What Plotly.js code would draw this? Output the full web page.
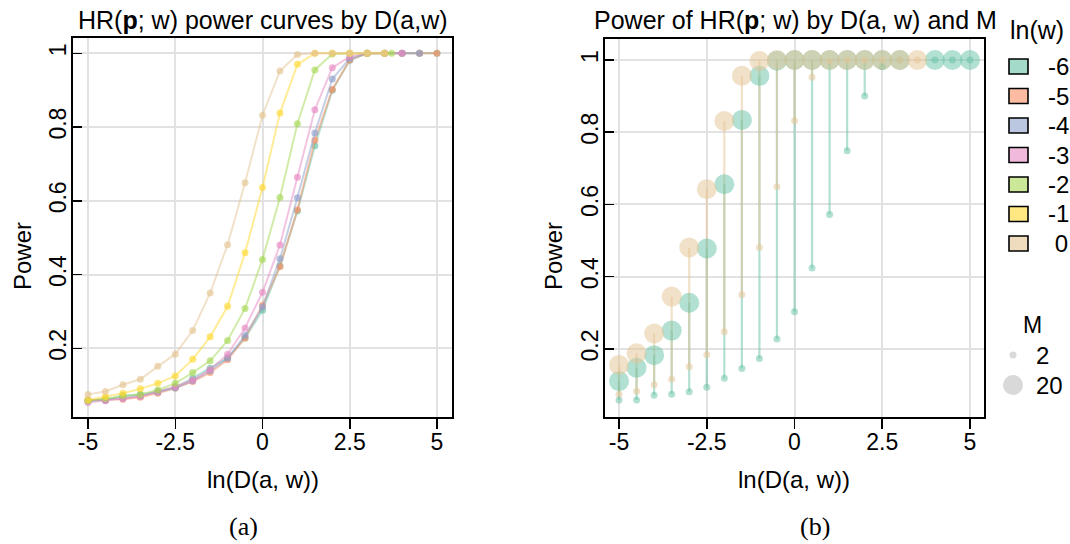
<!DOCTYPE html>
<html><head><meta charset="utf-8">
<script src="https://cdn.plot.ly/plotly-3.0.1.min.js"></script>
<style>html,body{margin:0;padding:0;background:#fff;}#chart{width:1070px;height:544px;}</style>
</head><body><div id="chart"></div>
<script>
// ---- data ----
const lnW = [-6, -5, -4, -3, -2, -1, 0];
const lnWLabels = ["-6", "-5", "-4", "-3", "-2", "-1", "\u00a00"];
const rgb = ["102,194,165", "252,141,98", "141,160,203", "231,138,195", "166,216,84", "255,217,47", "229,196,148"];

// ln(D(a,w)) grids per ln(w)
const d_wm6 = [-5,-4.5,-4,-3.5,-3,-2.5,-2,-1.5,-1,-0.5,0,0.5,1,1.5,2,2.5,3,4,4.5,5];
const d_wm5 = [-5,-4.5,-4,-3.5,-3,-2.5,-2,-1.5,-1,-0.5,0,0.5,1,1.5,2,2.5,3,3.5,4,4.5,5];
const d_wm4 = [-5,-4.5,-4,-3.5,-3,-2.5,-2,-1.5,-1,-0.5,0,0.5,1,1.5,2,2.5,3,3.5,4,4.5];
const d_wm3 = [-5,-4.5,-4,-3.5,-3,-2.5,-2,-1.5,-1,-0.5,0,0.5,1,1.5,2,2.5,3,3.5,4];
const d_wm2 = [-5,-4.5,-4,-3.5,-3,-2.5,-2,-1.5,-1,-0.5,0,0.5,1,1.5,2,2.5,3,3.5,3.7];
const d_wm1 = [-5,-4.5,-4,-3.5,-3,-2.5,-2,-1.5,-1,-0.5,0,0.5,1,1.5,2,2.5,3,3.5];
const d_w0  = [-5,-4.5,-4,-3.5,-3,-2.5,-2,-1.5,-1,-0.5,0,0.5,1,1.5,2,2.5,3,3.5];

// power with M = 2
const pM2_wm6 = [0.059,0.059,0.072,0.075,0.082,0.094,0.119,0.146,0.174,0.228,0.303,0.424,0.572,0.749,0.900,0.981,1,1,1,1];
const pM2_wm5 = [0.060,0.060,0.062,0.067,0.078,0.092,0.110,0.134,0.169,0.228,0.317,0.421,0.576,0.764,0.902,0.982,1,1,1,1,1];
const pM2_wm4 = [0.057,0.060,0.065,0.071,0.081,0.092,0.112,0.139,0.173,0.235,0.312,0.443,0.608,0.784,0.930,0.986,1,1,1,1];
const pM2_wm3 = [0.053,0.058,0.064,0.069,0.083,0.096,0.114,0.142,0.184,0.255,0.352,0.480,0.664,0.847,0.961,0.991,1,1,1];
const pM2_wm2 = [0.058,0.064,0.071,0.075,0.087,0.105,0.134,0.166,0.221,0.308,0.441,0.609,0.809,0.955,0.998,1,1,1,1];
const pM2_wm1 = [0.060,0.069,0.078,0.090,0.105,0.125,0.170,0.231,0.314,0.459,0.636,0.838,0.970,1,1,1,1,1];
const pM2_w0  = [0.075,0.083,0.101,0.116,0.151,0.184,0.248,0.350,0.481,0.649,0.832,0.952,0.997,1,1,1,1,1];

// power with M = 20 (panel b)
const pM20_wm6 = [0.111,0.148,0.183,0.251,0.328,0.478,0.656,0.834,0.956,0.998,1,1,1,1,1,1,1,1,1,1];
const pM20_w0  = [0.156,0.188,0.243,0.345,0.481,0.642,0.831,0.956,0.997,1,1,1,1,1,1,1,1,1];

const xTicks = [-5, -2.5, 0, 2.5, 5];
const xTickText = ["-5", "-2.5", "0", "2.5", "5"];
const yTicks = [0.2, 0.4, 0.6, 0.8, 1];
const yTickText = ["0.2", "0.4", "0.6", "0.8", "1"];
const mSizes = [2, 20];

// ---- build ----
const W = 1070, H = 544;
const px = v => v / W, py = v => 1 - v / H;
const FONT = "Liberation Sans, Arial, sans-serif";

const dList = [d_wm6, d_wm5, d_wm4, d_wm3, d_wm2, d_wm1, d_w0];
const pList = [pM2_wm6, pM2_wm5, pM2_wm4, pM2_wm3, pM2_wm2, pM2_wm1, pM2_w0];

const traces = [];
lnW.forEach((w, i) => {
  traces.push({
    type: "scatter", mode: "lines+markers", x: dList[i], y: pList[i],
    name: "ln(w) = " + w, xaxis: "x", yaxis: "y", showlegend: false,
    line: {color: "rgba(" + rgb[i] + ",0.5)", width: 2},
    marker: {color: "rgba(" + rgb[i] + ",0.65)", size: 7}
  });
});

function segs(d, a, b) {
  const xs = [], ys = [];
  d.forEach((x, j) => { xs.push(x, x, null); ys.push(a[j], b[j], null); });
  return {xs, ys};
}
const panelB = [
  {i: 0, d: d_wm6, m2: pM2_wm6, m20: pM20_wm6},
  {i: 6, d: d_w0, m2: pM2_w0, m20: pM20_w0}
];
panelB.forEach(s => {
  const sg = segs(s.d, s.m2, s.m20);
  traces.push({type: "scatter", mode: "lines", x: sg.xs, y: sg.ys, xaxis: "x2", yaxis: "y2",
    showlegend: false, hoverinfo: "skip", line: {color: "rgba(" + rgb[s.i] + ",0.5)", width: 2.2}});
});
panelB.forEach(s => {
  traces.push({type: "scatter", mode: "markers", x: s.d, y: s.m20, xaxis: "x2", yaxis: "y2",
    showlegend: false, name: "M = " + mSizes[1],
    marker: {color: "rgba(" + rgb[s.i] + ",0.5)", size: 20, line: {width: 0}}});
  traces.push({type: "scatter", mode: "markers", x: s.d, y: s.m2, xaxis: "x2", yaxis: "y2",
    showlegend: false, name: "M = " + mSizes[0],
    marker: {color: "rgba(" + rgb[s.i] + ",0.5)", size: 7, line: {width: 0}}});
});

const axBase = {
  showline: true, linecolor: "#000", linewidth: 2, mirror: true,
  showgrid: true, gridcolor: "#e2e2e2", gridwidth: 2, zeroline: false,
  tickcolor: "#000", tickwidth: 1.5, tickfont: {family: FONT, size: 23, color: "#000"}
};
const xAx = (dom, rng, anchor) => Object.assign({}, axBase, {
  domain: dom, range: rng, anchor: anchor, tickmode: "array", tickvals: xTicks, ticktext: xTickText,
  ticks: "outside", ticklen: 10, ticklabelstandoff: -6
});
const yAx = (dom, rng, anchor) => Object.assign({}, axBase, {
  domain: dom, range: rng, anchor: anchor, tickmode: "array", tickvals: yTicks, ticktext: yTickText,
  ticks: "inside", ticklen: 9, tickangle: -90, ticklabelstandoff: -4
});

const ann = [];
const T = (text, x, y, size, extra) => ann.push(Object.assign({
  text: text, x: px(x), y: py(y), xref: "paper", yref: "paper", showarrow: false,
  xanchor: "center", yanchor: "middle", font: {family: FONT, size: size, color: "#000"}
}, extra || {}));

T("HR(<b>p</b>; w) power curves by D(a,w)", 262.5, 20, 25);
T("Power of HR(<b>p</b>; w) by D(a, w) and M", 795, 20, 25);
T("ln(D(a, w))", 263, 479, 24);
T("ln(D(a, w))", 794, 479, 24);
T("Power", 22, 256, 24, {textangle: -90});
T("Power", 553, 256, 24, {textangle: -90});
T("(a)", 244, 526, 26, {font: {family: "Liberation Serif, serif", size: 26, color: "#000"}});
T("(b)", 815, 526, 26, {font: {family: "Liberation Serif, serif", size: 26, color: "#000"}});

// legend (ln(w) colours)
const shapes = [];
T("ln(w)", 1008, 30, 25, {xanchor: "left"});
lnW.forEach((w, i) => {
  const cy = 66.5 + i * 29.5;
  shapes.push({type: "rect", xref: "paper", yref: "paper", x0: px(1009), x1: px(1028),
    y0: py(cy + 7.5), y1: py(cy - 7.5), line: {color: "#000", width: 1.6},
    fillcolor: "rgba(" + rgb[i] + ",0.6)"});
  T(lnWLabels[i], 1046, cy, 24, {xanchor: "left"});
});
// legend (M sizes)
T("M", 1032, 325, 23);
[[355, 3.5], [385, 10]].forEach((c, k) => {
  shapes.push({type: "circle", xref: "paper", yref: "paper", x0: px(1013 - c[1]), x1: px(1013 + c[1]),
    y0: py(c[0] + c[1]), y1: py(c[0] - c[1]), line: {width: 0}, fillcolor: "#d9d9d9"});
  T(String(mSizes[k]), 1034, c[0], 24, {xanchor: "left"});
});

const layout = {
  width: W, height: H, autosize: false, showlegend: false,
  margin: {l: 0, r: 0, t: 0, b: 0}, paper_bgcolor: "#fff", plot_bgcolor: "#fff",
  font: {family: FONT, color: "#000"},
  xaxis: xAx([px(73), px(452)], [-5.43, 5.43], "y"),
  yaxis: yAx([py(416.5), py(38)], [0.015, 1.0415], "x"),
  xaxis2: xAx([px(605), px(984)], [-5.4, 5.4], "y2"),
  yaxis2: yAx([py(416.7), py(39)], [0.0126, 1.058], "x2"),
  annotations: ann, shapes: shapes
};

Plotly.newPlot("chart", traces, layout, {staticPlot: true, displayModeBar: false});
</script></body></html>
